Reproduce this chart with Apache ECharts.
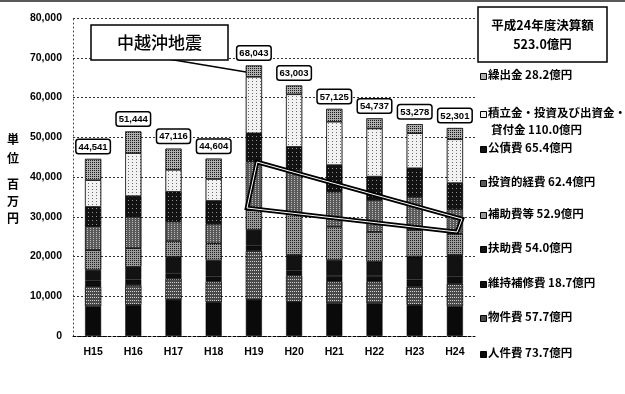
<!DOCTYPE html>
<html>
<head>
<meta charset="utf-8">
<script src="https://cdn.jsdelivr.net/npm/echarts@6/dist/echarts.min.js"></script>
<style>
  html, body { margin: 0; padding: 0; background: #fff; }
  #chart { width: 625px; height: 394px; }
</style>
</head>
<body>
<div id="chart"></div>
<script>
// 年度
const years = ['H15', 'H16', 'H17', 'H18', 'H19', 'H20', 'H21', 'H22', 'H23', 'H24'];

// 性質別歳出決算額（単位：百万円）
const jinkenhi   = [7400, 7800, 9100, 8500, 9100, 8600, 8200, 8200, 7800, 7370]; // 人件費
const bukkenhi   = [5100, 5000, 5300, 5200, 12300, 6600, 5500, 5500, 4600, 5770]; // 物件費
const ijihoshu   = [1400, 1400, 1400, 1300, 1300, 1300, 1400, 1400, 1800, 1870]; // 維持補修費
const fujohi     = [2700, 3200, 4100, 4000, 4000, 3900, 4000, 3600, 5800, 5400]; // 扶助費
const hojohi     = [5000, 4700, 4000, 4300, 5000, 10500, 8400, 7500, 6700, 5290]; // 補助費等
const toushi     = [6000, 7900, 4900, 4900, 12200, 10900, 8800, 8000, 8300, 6240]; // 投資的経費
const kousaihi   = [4900, 5200, 7500, 5800, 7100, 5800, 6700, 5900, 7200, 6540]; // 公債費
const tsumitate  = [6700, 10800, 5500, 5500, 14200, 13200, 10900, 12100, 8800, 11000]; // 積立金・投資及び出資金・貸付金
const kuridashi  = [5341, 5444, 5316, 5104, 2843, 2203, 3225, 2537, 2278, 2821]; // 繰出金

// 目盛
const yMax = 80000;
const yStep = 10000;

const FONT_JP = '"Noto Sans CJK JP", "Liberation Sans", sans-serif';
const FONT_NUM = '"Liberation Sans", Arial, sans-serif';

const chart = echarts.init(document.getElementById('chart'), null, { renderer: 'canvas' });

function comma(n) {
  return String(Math.round(n)).replace(/\B(?=(\d{3})+(?!\d))/g, ',');
}

// 網掛け（点描）パターン
function dots(color, gx, gy) {
  return { symbol: 'rect', symbolSize: 1, color: color, dashArrayX: [1, gx], dashArrayY: [1, gy], rotation: 0 };
}

// stack from bottom to top
const stackDefs = [
  { name: '人件費', data: jinkenhi, color: '#0a0a0a' },
  { name: '物件費', data: bukkenhi, color: '#4a4a4a', decal: dots('rgba(255,255,255,0.75)', 1, 2) },
  { name: '維持補修費', data: ijihoshu, color: '#0e0e0e' },
  { name: '扶助費', data: fujohi, color: '#121212' },
  { name: '補助費等', data: hojohi, color: '#9a9a9a', decal: dots('rgba(0,0,0,0.8)', 1, 1) },
  { name: '投資的経費', data: toushi, color: '#5a5a5a', decal: dots('rgba(255,255,255,0.6)', 2, 1) },
  { name: '公債費', data: kousaihi, color: '#121212', decal: dots('rgba(255,255,255,0.55)', 3, 3) },
  { name: '積立金・投資及び出資金・貸付金', data: tsumitate, color: '#f2f2f2', decal: dots('rgba(0,0,0,0.55)', 3, 2) },
  { name: '繰出金', data: kuridashi, color: '#b0b0b0', decal: dots('rgba(0,0,0,0.85)', 1, 1) }
];

function totalAt(i) {
  return stackDefs.reduce((s, d) => s + d.data[i], 0);
}

const series = stackDefs.map((d, k) => {
  const s = {
    name: d.name,
    type: 'bar',
    stack: 'total',
    barWidth: 16,
    data: d.data,
    itemStyle: { color: d.color, borderColor: '#000', borderWidth: 0.5 },
    emphasis: { disabled: true },
    animation: false
  };
  if (d.decal) s.itemStyle.decal = d.decal;
  if (k === stackDefs.length - 1) {
    s.label = {
      show: true,
      position: 'top',
      distance: 6,
      formatter: p => comma(totalAt(p.dataIndex)),
      fontFamily: FONT_NUM,
      fontWeight: 'bold',
      fontSize: 9.5,
      color: '#000',
      backgroundColor: '#fff',
      borderColor: '#000',
      borderWidth: 1.5,
      borderRadius: 2,
      padding: [2, 2, 1, 2]
    };
  }
  return s;
});

// 凡例（右側）：H24の金額を億円で表示
const legendRows = [
  { idx: 8, y: 76, label: '繰出金' },
  { idx: 7, y: 114, label: '積立金・投資及び出資金・', line2: '貸付金', y2: 131 },
  { idx: 6, y: 149, label: '公債費' },
  { idx: 5, y: 183, label: '投資的経費' },
  { idx: 4, y: 215, label: '補助費等' },
  { idx: 3, y: 249, label: '扶助費' },
  { idx: 2, y: 284, label: '維持補修費' },
  { idx: 1, y: 318, label: '物件費' },
  { idx: 0, y: 354, label: '人件費' }
];
const last = years.length - 1;
const okuen = v => (v / 100).toFixed(1) + '億円';

const legendGraphics = [];
legendRows.forEach(r => {
  const d = stackDefs[r.idx];
  legendGraphics.push({
    type: 'rect', left: 480, top: r.y - 3,
    shape: { width: 6, height: 6 },
    style: { fill: d.color, stroke: '#000', lineWidth: 1 }
  });
  const amount = okuen(d.data[last]);
  if (r.line2) {
    legendGraphics.push({
      type: 'text', left: 488, top: r.y - 7,
      style: { text: r.label, font: 'bold 11.5px ' + FONT_JP, fill: '#000' }
    });
    legendGraphics.push({
      type: 'text', left: 491, top: r.y2 - 7,
      style: { text: r.line2 + ' ' + amount, font: 'bold 11.5px ' + FONT_JP, fill: '#000' }
    });
  } else {
    legendGraphics.push({
      type: 'text', left: 488, top: r.y - 7,
      style: { text: r.label + ' ' + amount, font: 'bold 11.5px ' + FONT_JP, fill: '#000' }
    });
  }
});

const grandTotal = (stackDefs.reduce((s, d) => s + d.data[last], 0) / 100).toFixed(1);

const option = {
  backgroundColor: '#fff',
  animation: false,
  grid: { left: 73, right: 150, top: 18, bottom: 58, containLabel: false },
  xAxis: {
    type: 'category',
    data: years,
    axisLine: { show: true, lineStyle: { color: '#000', width: 1, type: [3, 2] } },
    axisTick: { show: false },
    axisLabel: { color: '#000', fontFamily: FONT_NUM, fontWeight: 'bold', fontSize: 10.5, margin: 11 }
  },
  yAxis: {
    type: 'value',
    min: 0,
    max: yMax,
    interval: yStep,
    axisLine: { show: true, lineStyle: { color: '#444', width: 1, type: [1, 3] } },
    axisTick: { show: false },
    axisLabel: {
      color: '#000', fontFamily: FONT_NUM, fontWeight: 'bold', fontSize: 10.5, margin: 11,
      formatter: v => comma(v)
    },
    splitLine: { show: true, lineStyle: { color: '#333', width: 1, type: [2, 2] } }
  },
  series: series,
  graphic: [
    // 上端の罫線
    { type: 'line', shape: { x1: 0, y1: 1, x2: 625, y2: 1 }, style: { stroke: '#222', lineWidth: 1.5 }, z: 10 },
    // 単位
    { type: 'text', left: 7, top: 130, style: { text: '単\n位', font: 'bold 12px ' + FONT_JP, fill: '#000', lineHeight: 19 } },
    { type: 'text', left: 7, top: 176, style: { text: '百\n万\n円', font: 'bold 12px ' + FONT_JP, fill: '#000', lineHeight: 17 } },
    // 決算額の枠
    { type: 'rect', shape: { x: 478, y: 7, width: 129, height: 55 }, style: { fill: '#fff', stroke: '#000', lineWidth: 1.5 }, z: 10 },
    { type: 'text', x: 542.5, y: 25, style: { text: '平成24年度決算額', font: 'bold 12.5px ' + FONT_JP, fill: '#000', align: 'center', verticalAlign: 'middle' }, z: 11 },
    { type: 'text', x: 542.5, y: 44, style: { text: grandTotal + '億円', font: 'bold 12.5px ' + FONT_JP, fill: '#000', align: 'center', verticalAlign: 'middle' }, z: 11 },
    // 中越沖地震の吹き出し
    { type: 'line', shape: { x1: 168, y1: 59, x2: 246, y2: 72 }, style: { stroke: '#000', lineWidth: 1.5 }, z: 10 },
    { type: 'rect', shape: { x: 91, y: 25, width: 137, height: 35 }, style: { fill: '#fff', stroke: '#000', lineWidth: 1.5 }, z: 10 },
    { type: 'text', x: 159.5, y: 43, style: { text: '中越沖地震', font: '500 17px ' + FONT_JP, fill: '#000', align: 'center', verticalAlign: 'middle' }, z: 11 },
    // 推移を囲む枠
    { type: 'polygon', shape: { points: [[257, 162], [462, 219], [457, 232], [247, 208]] }, style: { fill: 'none', stroke: '#000', lineWidth: 4.5, lineJoin: 'miter' }, z: 10 },
    { type: 'polygon', shape: { points: [[257, 162], [462, 219], [457, 232], [247, 208]] }, style: { fill: 'none', stroke: '#fff', lineWidth: 1 }, z: 11 }
  ].concat(legendGraphics)
};

chart.setOption(option);
</script>
</body>
</html>
